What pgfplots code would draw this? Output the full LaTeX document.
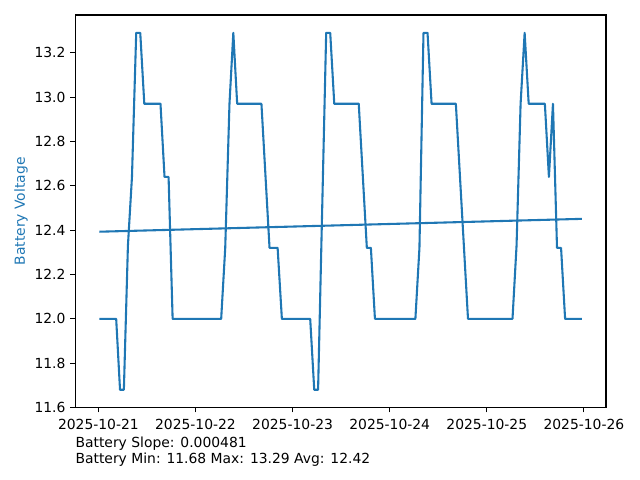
\documentclass[border=0pt]{standalone}
\usepackage{pgfplots}
\pgfplotsset{compat=1.18}
\usepackage{fontspec}
\setmainfont{DejaVu Sans}
\definecolor{tabblue}{HTML}{1F77B4}
\begin{document}
\begin{tikzpicture}
\begin{axis}[
  at={(0,0)}, anchor=south west,
  scale only axis, width=382.1pt, height=282.7pt,
  xmin=-5.71, xmax=125.45, ymin=11.5995, ymax=13.3705,
  xtick={0,24,48,72,96,120},
  xticklabels={2025-10-21,2025-10-22,2025-10-23,2025-10-24,2025-10-25,2025-10-26},
  ytick={11.6,11.8,12.0,12.2,12.4,12.6,12.8,13.0,13.2},
  yticklabel style={/pgf/number format/.cd, fixed, fixed zerofill, precision=1},
  /pgf/number format/assume math mode=true,
  tick label style={font=\fontsize{10}{12}\selectfont},
  label style={font=\fontsize{10}{12}\selectfont},
  tick align=outside, major tick length=3.5pt,
  xtick pos=bottom, ytick pos=left,
  tick style={black, line width=0.8pt},
  axis line style={line width=0.8pt},
  ylabel={Battery Voltage},
  ylabel style={color=tabblue},
  ylabel shift=-2pt,
  xticklabel style={yshift=-1pt},
]
\addplot[tabblue, line width=1.5pt, line join=round] table {
h v
0.25 12.00
4.4 12.00
5.35 11.68
6.3 11.68
7.3 12.33
8.3 12.64
9.35 13.29
10.35 13.29
11.35 12.97
15.35 12.97
16.35 12.64
17.35 12.64
18.35 12.00
30.35 12.00
31.35 12.32
32.4 12.97
33.35 13.29
34.3 12.97
40.3 12.97
42.3 12.32
44.3 12.32
45.35 12.00
52.35 12.00
53.35 11.68
54.3 11.68
56.3 13.29
57.3 13.29
58.3 12.97
64.35 12.97
66.35 12.32
67.35 12.32
68.35 12.00
78.35 12.00
79.35 12.32
80.35 13.29
81.35 13.29
82.35 12.97
88.35 12.97
91.35 12.00
102.35 12.00
103.35 12.33
104.35 12.97
105.35 13.29
106.35 12.97
110.35 12.97
111.35 12.64
112.35 12.97
113.35 12.32
114.35 12.32
115.35 12.00
119.5 12.00
};
\addplot[tabblue, line width=1.5pt] coordinates {(0.25,12.393) (119.5,12.451)};
\end{axis}
\node[anchor=base west, inner sep=0pt, font=\fontsize{10}{12}\selectfont] at (0,-28.6pt) {Battery Slope: 0.000481};
\node[anchor=base west, inner sep=0pt, font=\fontsize{10}{12}\selectfont] at (0,-40.1pt) {Battery Min: 11.68 Max: 13.29 Avg: 12.42};
\pgfresetboundingbox
\path (-54.2pt,-52.1pt) rectangle (406.6pt,293.5pt);
\end{tikzpicture}
\end{document}
